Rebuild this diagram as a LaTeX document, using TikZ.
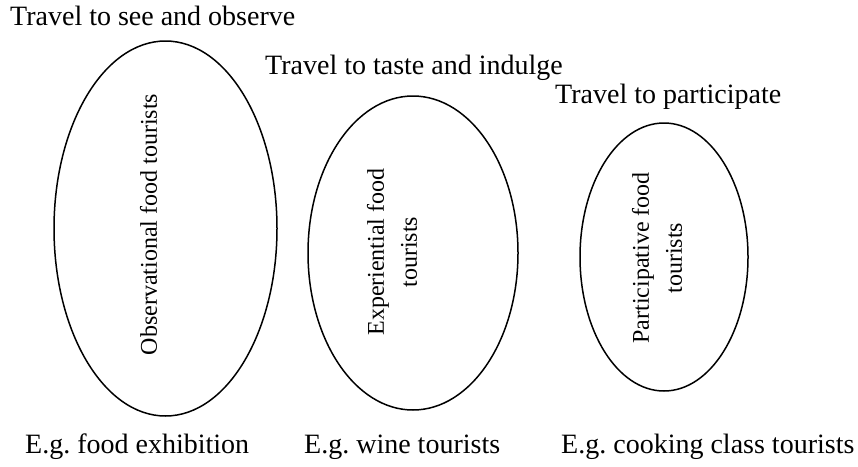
\documentclass[tikz,border=0pt]{standalone}
\usepackage{fontspec}
\setmainfont{Liberation Serif}
\usetikzlibrary{shapes.geometric, positioning}
\frenchspacing

\begin{document}
\begin{tikzpicture}[x=1pt,y=-1pt,
    oval/.style={draw, ellipse, line width=1.5pt, inner sep=0pt},
    heading/.style={anchor=base west, inner sep=0pt, font=\fontsize{28}{32}\selectfont},
    example/.style={anchor=base west, inner sep=0pt, font=\fontsize{28}{32}\selectfont},
    kind/.style={rotate=90, align=center, inner sep=0pt, font=\fontsize{24}{33}\selectfont}]
      \useasboundingbox (0,0) rectangle (858,466);

      \node[oval, minimum width=223pt, minimum height=375pt] (obs) at (165.5,228.5) {};
      \node[oval, minimum width=210pt, minimum height=314pt] (exp) at (413,253) {};
      \node[oval, minimum width=168pt, minimum height=268pt] (par) at (664,257) {};

      \node[kind] (obs_txt) at ([xshift=-17pt,yshift=4pt]obs.center) {Observational food tourists};
      \node[kind] (exp_txt) at ([xshift=-21pt,yshift=1pt]exp.center) {Experiential food\\tourists};
      \node[kind] (par_txt) at ([xshift=-7pt,yshift=-1pt]par.center) {Participative food\\tourists};

      \node[heading] (obs_head) at (10,25) {Travel to see and observe};
      \node[heading] (exp_head) at (265,74) {Travel to taste and indulge};
      \node[heading] (par_head) at (555,103) {Travel to participate};

      \node[example] (obs_eg) at (25,453) {E.g. food exhibition};
      \node[example] (exp_eg) at (304,453) {E.g. wine tourists};
      \node[example] (par_eg) at (561,453) {E.g. cooking class tourists};
\end{tikzpicture}
\end{document}
